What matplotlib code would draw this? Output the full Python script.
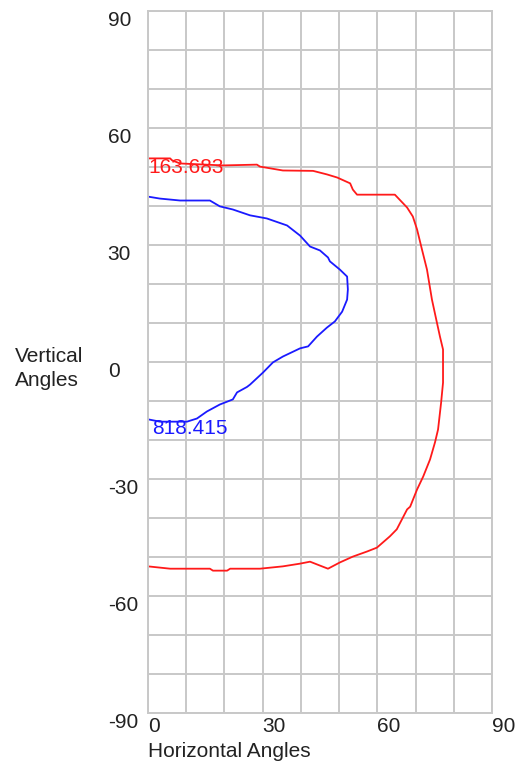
import matplotlib.pyplot as plt

plt.rcParams['font.family'] = ['Liberation Sans', 'DejaVu Sans']

# red contour (163.683)
red_h = [0, 5.8, 6.3, 8.4, 19.6, 28.5, 29.3, 35.3, 43.2, 46.8, 49.5, 52.9, 53.6, 54.7,
         64.6, 67.8, 69.3, 70.4, 71.7, 73.0, 74.3, 75.6, 76.4, 77.2, 77.2, 76.7, 75.9,
         75.1, 73.8, 72.0, 70.4, 68.6, 67.8, 65.1, 63.3, 59.9, 57.3, 53.6, 50.2, 47.1,
         45.0, 42.4, 39.8, 35.3, 29.3, 21.5, 20.7, 17.0, 16.2, 5.8, 0]
red_v = [52.2, 52.2, 51.7, 50.9, 50.4, 50.6, 50.1, 49.1, 49.0, 48.1, 47.3, 45.8, 44.2, 42.9,
         42.9, 39.6, 37.3, 34.0, 28.8, 23.7, 16.0, 10.1, 6.5, 3.2, -5.3, -10.4, -17.3,
         -20.6, -25.0, -29.4, -32.7, -37.1, -37.8, -42.9, -44.7, -47.6, -48.6, -49.9, -51.4, -53.0,
         -52.2, -51.2, -51.7, -52.4, -53.0, -53.0, -53.5, -53.5, -53.0, -53.0, -52.4]

# blue contour (818.415)
blue_h = [0, 3.1, 8.4, 16.2, 18.8, 22.2, 26.7, 31.1, 36.4, 39.8, 42.4, 45.0, 47.1, 47.6,
          50.2, 52.1, 52.3, 52.1, 50.8, 48.9, 46.8, 44.2, 41.9, 39.8, 35.3, 32.7, 30.1,
          26.7, 25.9, 23.3, 22.2, 18.8, 15.4, 12.8, 10.2, 3.1, 0]
blue_v = [42.4, 41.9, 41.4, 41.4, 39.9, 39.1, 37.6, 36.8, 35.0, 32.4, 29.6, 28.6, 26.8, 25.8,
          23.7, 21.9, 18.6, 16.0, 12.9, 10.4, 8.8, 6.5, 4.0, 3.5, 1.4, -0.1, -2.7,
          -5.8, -6.4, -7.8, -9.6, -10.9, -12.7, -14.5, -15.3, -15.3, -14.7]

xticks = [0, 30, 60, 90]
yticks = [90, 60, 30, 0, -30, -60, -90]

txt = '#222222'
grid_c = '#c8c8c8'

fig = plt.figure(figsize=(5.18, 7.67), dpi=100)
ax = fig.add_axes([0.2857, 0.0704, 0.664, 0.9153])

ax.plot(red_h, red_v, color='#ff1a1a', lw=1.3)
ax.plot(blue_h, blue_v, color='#1a1aff', lw=1.3)
ax.text(0.1, 52.2, '163.683', color='#ff1a1a', fontsize=15, ha='left', va='top')
ax.text(1.0, -14.6, '818.415', color='#1a1aff', fontsize=15, ha='left', va='top')

ax.set_xlim(0, 90)
ax.set_ylim(-90, 90)
ax.set_xticks(range(0, 91, 10), minor=True)
ax.set_yticks(range(-90, 91, 10), minor=True)
ax.set_xticks(xticks)
ax.set_xticklabels([str(v) for v in xticks], ha='left', va='top')
ax.set_yticks(yticks)
ax.set_yticklabels([str(v) for v in yticks], ha='left', va='top')
ax.tick_params(which='both', length=0, labelsize=15, labelcolor=txt)
ax.tick_params(axis='y', pad=29)
ax.tick_params(axis='x', pad=3)
ax.grid(True, which='both', color=grid_c, lw=1.4)
ax.set_axisbelow(True)
for s in ax.spines.values():
    s.set_color(grid_c)
    s.set_linewidth(1.4)

ax.set_xlabel('Horizontal Angles', loc='left', fontsize=15, color=txt, labelpad=4)
ax.set_ylabel('Vertical\nAngles', rotation=0, fontsize=15, color=txt,
              ha='left', va='center', multialignment='left', linespacing=1.3)
ax.yaxis.set_label_coords(-0.387, 0.491)

fig.savefig('out.png', dpi=100)
